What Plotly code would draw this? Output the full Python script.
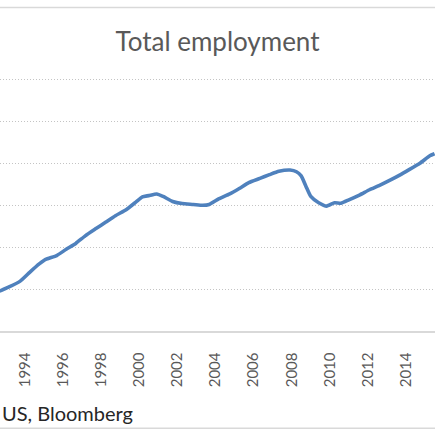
import plotly.graph_objects as go

title_text = "Total employment"
source_text = "US, Bloomberg"

# Total nonfarm employment (thousands)
dates = [
    "1992-09-01", "1993-03-01", "1993-10-01", "1994-04-01", "1994-10-01",
    "1995-02-01", "1995-09-01", "1996-03-01", "1996-09-01", "1997-03-01",
    "1997-10-01", "1998-04-01", "1998-10-01", "1999-05-01", "1999-11-01",
    "2000-03-01", "2000-07-01", "2000-12-01", "2001-04-01", "2001-10-01",
    "2002-04-01", "2002-11-01", "2003-05-01", "2003-09-01", "2004-03-01",
    "2004-10-01", "2005-04-01", "2005-10-01", "2006-05-01", "2006-11-01",
    "2007-05-01", "2007-12-01", "2008-04-01", "2008-07-01", "2008-10-01",
    "2009-01-01", "2009-06-01", "2009-11-01", "2010-04-01", "2010-08-01",
    "2011-01-01", "2011-08-01", "2012-02-01", "2012-08-01", "2013-03-01",
    "2013-09-01", "2014-03-01", "2014-10-01", "2015-04-01", "2015-07-01",
]
employment = [
    109500, 110500, 111900, 114000, 116000,
    117100, 118000, 119500, 120900, 122700,
    124500, 126000, 127500, 129000, 130800,
    132000, 132300, 132700, 132100, 130900,
    130400, 130200, 130000, 130200, 131500,
    132700, 134000, 135400, 136400, 137300,
    138100, 138400, 138000, 137000, 134500,
    132100, 130600, 129800, 130600, 130500,
    131300, 132500, 133700, 134700, 136000,
    137200, 138500, 140100, 141800, 142300,
]
tick_years = ["1994", "1996", "1998", "2000", "2002", "2004",
              "2006", "2008", "2010", "2012", "2014"]

W = H = 435
axis_px = 331
y_min, y_max = 100000, 160600
px_per_unit = 251 / 60000
top_px = axis_px - (y_max - y_min) * px_per_unit
plot_h = axis_px - top_px


def paper_y(px):
    return (axis_px - px) / plot_h


fig = go.Figure()
fig.add_trace(go.Scatter(
    x=dates, y=employment, mode="lines",
    line=dict(color="#4F81BD", width=3.6, shape="spline", smoothing=0.5),
    hoverinfo="skip", showlegend=False,
))

fig.update_layout(
    width=W, height=H,
    margin=dict(l=0, r=0, t=top_px, b=H - axis_px, autoexpand=False),
    paper_bgcolor="white", plot_bgcolor="white",
    font=dict(family="Lato, Open Sans, sans-serif", color="#595959"),
    title=dict(text=title_text, x=0.5, xanchor="center", y=1 - 42 / H,
               yanchor="middle", font=dict(size=26, color="#595959")),
    xaxis=dict(
        type="date",
        range=["1992-09-09", "2015-07-10"],
        tickvals=[f"{y}-01-01" for y in tick_years],
        ticktext=tick_years,
        tickangle=-90,
        tickfont=dict(size=15, color="#595959"),
        ticks="", ticklabelstandoff=14,
        showgrid=False, zeroline=False,
        showline=True, linecolor="#D9D9D9", linewidth=1.5,
        automargin=False,
    ),
    yaxis=dict(
        range=[y_min, y_max],
        tick0=100000, dtick=10000,
        showticklabels=False, ticks="",
        showgrid=True, gridcolor="#C4C4C4", griddash="1px,2px", gridwidth=1,
        zeroline=False, showline=False, automargin=False,
    ),
    shapes=[
        dict(type="line", xref="paper", yref="paper", x0=-0.1, x1=1.1,
             y0=paper_y(8), y1=paper_y(8), line=dict(color="#D9D9D9", width=1.5)),
        dict(type="line", xref="paper", yref="paper", x0=-0.1, x1=1.1,
             y0=paper_y(428), y1=paper_y(428), line=dict(color="#D9D9D9", width=1.5)),
    ],
    annotations=[
        dict(text=source_text, xref="paper", yref="paper",
             x=0, xanchor="left", y=paper_y(413), yanchor="middle",
             showarrow=False, font=dict(size=20, color="#262626")),
    ],
)

fig.write_html(
    "out.html",
    config={"displayModeBar": False, "staticPlot": True},
    post_script="document.body.style.margin='0';document.body.style.overflow='hidden';",
)
